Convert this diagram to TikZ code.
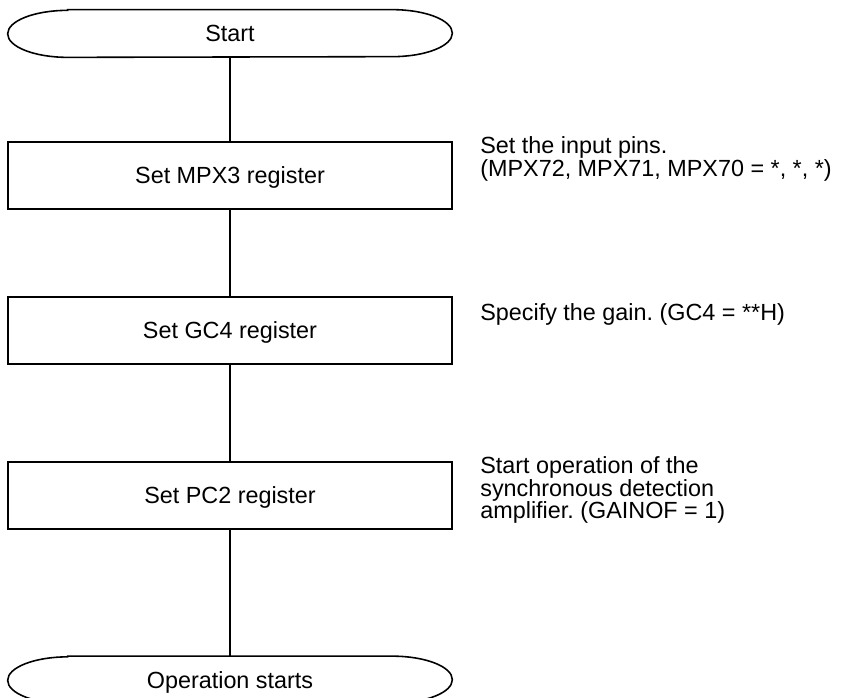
\documentclass[tikz,border=0pt]{standalone}
\usepackage{fontspec}
\setmainfont{Liberation Sans}
\frenchspacing
\usetikzlibrary{positioning}
\tikzset{
  flowbox/.style={draw, line width=0.9pt, minimum width=8.88cm, minimum height=1.34cm,
                  inner sep=0pt, text height=1.1em, text depth=0.14em},
  termbox/.style={minimum width=8.88cm, minimum height=0.94cm,
                  inner sep=0pt, text height=1.1em, text depth=0.14em},
  notetext/.style={anchor=north west, inner sep=0pt, align=left},
  link/.style={line width=0.9pt}}

\begin{document}
\begin{tikzpicture}[font=\fontsize{13.3}{12.8}\selectfont]
  \useasboundingbox (0,0) rectangle (17,-13.94);
  \node[termbox] (start) at (4.6,-0.67) {Start};
  \node[flowbox] (mpx) at (4.6,-3.51) {Set MPX3 register};
  \node[flowbox] (gc) at (4.6,-6.61) {Set GC4 register};
  \node[flowbox] (pc) at (4.6,-9.91) {Set PC2 register};
  \node[termbox] (opstart) at (4.6,-13.6) {Operation starts};
  % terminal outlines
  \foreach \t in {start,opstart}
    \draw[link] ([xshift=1.2cm]\t.north west) -- ([xshift=-1.2cm]\t.north east)
      arc[start angle=90, end angle=-90, x radius=1.2cm, y radius=0.47cm]
      -- ([xshift=1.2cm]\t.south west)
      arc[start angle=270, end angle=90, x radius=1.2cm, y radius=0.47cm] -- cycle;
  % notes
  \node[notetext] (mpxnote) at (9.6,-2.73)
    {Set the input pins.\\(MPX72, MPX71, MPX70 = *, *, *)};
  \node[notetext] (gcnote) at (9.6,-6.06) {Specify the gain. (GC4 = **H)};
  \node[notetext] (pcnote) at (9.6,-9.13)
    {Start operation of the\\synchronous detection\\amplifier. (GAINOF = 1)};
  \draw[link] (start) -- (mpx);
  \draw[link] (mpx) -- (gc);
  \draw[link] (gc) -- (pc);
  \draw[link] (pc) -- (opstart);
\end{tikzpicture}
\end{document}
